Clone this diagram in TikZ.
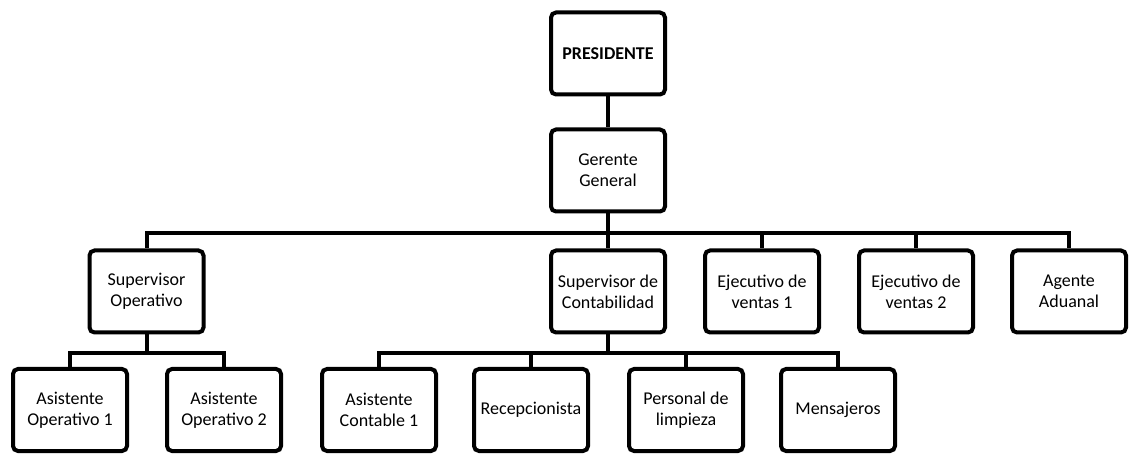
\documentclass[tikz,border=0pt]{standalone}
\usepackage{fontspec}
\setmainfont{Carlito}
\tikzset{
 puesto/.style={draw,line width=4pt,rounded corners=5pt,minimum width=114pt,
  minimum height=82pt,align=center,font=\fontsize{18}{21}\selectfont,inner sep=1pt},
 linea/.style={line width=4pt}
}
\begin{document}
\begin{tikzpicture}[
 x=1pt,y=-1pt
]
\useasboundingbox (0,0) rectangle (1133,454);
% direccion
\node[puesto] (pres) at (608,53.5) {\textbf{PRESIDENTE}};
\node[puesto] (ger) at (608,170.5) {Gerente\\General};
% supervisores
\node[puesto] (supop) at (146.5,291.5) {Supervisor\\Operativo};
\node[puesto] (supcont) at (608,291.5) {Supervisor de\\Contabilidad};
\node[puesto] (ejec1) at (762,291.5) {Ejecutivo de\\ventas 1};
\node[puesto] (ejec2) at (916,291.5) {Ejecutivo de\\ventas 2};
\node[puesto] (agente) at (1069,291.5) {Agente\\Aduanal};
% asistentes
\node[puesto] (asop1) at (70,410) {Asistente\\Operativo 1};
\node[puesto] (asop2) at (224,410) {Asistente\\Operativo 2};
\node[puesto] (ascont) at (379,410) {Asistente\\Contable 1};
\node[puesto] (recep) at (531,410) {Recepcionista};
\node[puesto] (limp) at (686,410) {Personal de\\limpieza};
\node[puesto] (mens) at (838,410) {Mensajeros};
% lineas
\coordinate (bus) at (608,233);
\coordinate (busop) at (146.5,353);
\coordinate (buscont) at (608,353);
\draw[linea] (pres) -- (ger);
\draw[linea] (ger) -- (bus);
\draw[linea] (bus) -| (supop.north);
\draw[linea] (bus) -- (supcont);
\draw[linea] (bus) -| (ejec1.north);
\draw[linea] (bus) -| (ejec2.north);
\draw[linea] (bus) -| (agente.north);
\draw[linea] (supop) -- (busop);
\draw[linea] (busop) -| (asop1.north);
\draw[linea] (busop) -| (asop2.north);
\draw[linea] (supcont) -- (buscont);
\draw[linea] (buscont) -| (ascont.north);
\draw[linea] (buscont) -| (recep.north);
\draw[linea] (buscont) -| (limp.north);
\draw[linea] (buscont) -| (mens.north);
\end{tikzpicture}
\end{document}
